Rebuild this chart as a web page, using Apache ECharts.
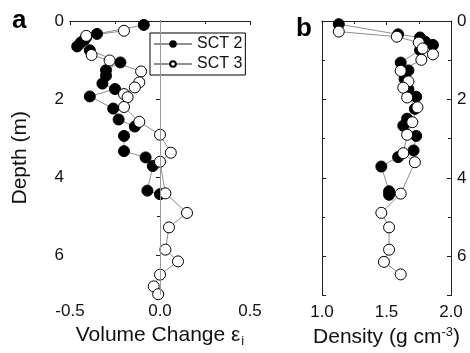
<!DOCTYPE html>
<html><head><meta charset="utf-8">
<script src="https://cdn.jsdelivr.net/npm/echarts@6/dist/echarts.min.js"></script>
<style>html,body{margin:0;padding:0;background:#fff}#c{width:470px;height:353px}</style>
</head><body><div id="c"></div>
<script>
// ---- data ----
const seriesNames = ['SCT 2', 'SCT 3'];
// panel a: volume change vs depth
const depthA2 = [0.10,0.33,0.42,0.48,0.55,0.65,0.75,1.06,1.26,1.40,1.60,1.74,1.93,2.24,2.52,2.70,2.94,3.33,3.49,3.71,4.34,4.43];
const volA2   = [-0.09,-0.35,-0.41,-0.42,-0.44,-0.46,-0.39,-0.22,-0.30,-0.30,-0.32,-0.25,-0.39,-0.26,-0.23,-0.14,-0.20,-0.20,-0.08,-0.04,-0.07,0.00];
const depthA3 = [0.25,0.38,0.87,1.01,1.29,1.57,1.70,1.87,1.95,2.20,2.58,2.91,3.37,3.60,4.41,4.91,5.28,5.85,6.15,6.49,6.79,6.99];
const volA3   = [-0.20,-0.41,-0.38,-0.28,-0.105,-0.115,-0.14,-0.20,-0.18,-0.20,-0.115,0.00,0.06,0.00,0.03,0.15,0.05,0.03,0.10,0.00,-0.035,-0.01];
// panel b: density vs depth
const depthB2 = [0.08,0.34,0.42,0.53,0.61,0.74,1.06,1.26,1.48,1.74,1.93,2.24,2.49,2.67,2.93,3.30,3.47,3.71,4.34,4.43];
const densB2  = [1.13,1.59,1.76,1.80,1.86,1.76,1.61,1.67,1.64,1.67,1.73,1.72,1.66,1.63,1.73,1.71,1.59,1.46,1.52,1.52];
const depthB3 = [0.27,0.40,0.55,0.70,0.85,0.99,1.27,1.54,1.70,1.95,2.20,2.58,2.90,3.37,3.60,4.40,4.89,5.26,5.83,6.14,6.46];
const densB3  = [1.13,1.58,1.75,1.78,1.86,1.77,1.61,1.67,1.63,1.66,1.74,1.70,1.66,1.63,1.72,1.61,1.46,1.52,1.52,1.48,1.61];
const volTicks = [-0.5, 0.0, 0.5];
const densTicks = [1.0, 1.5, 2.0];
const depthTicks = [0, 2, 4, 6];

// ---- chart ----
const font = 'Liberation Sans, Arial, sans-serif';
const pair = (xs, ys) => xs.map((x, i) => [x, ys[i]]);
const lineGray = '#8f8f8f';

function xAx(gi, min, max, ticks, pos, showLabels, name) {
  return {
    type: 'value', gridIndex: gi, min: min, max: max, position: pos,
    interval: ticks[1] - ticks[0],
    axisLine: { show: true, lineStyle: { color: '#222', width: 1 } },
    axisTick: { show: true, inside: pos === 'top', length: 4, lineStyle: { color: '#222' } },
    minorTick: { show: true, splitNumber: 2, length: 3, lineStyle: { color: '#222' } },
    splitLine: { show: false }, minorSplitLine: { show: false },
    axisLabel: { show: showLabels, fontSize: 17, color: '#111', fontFamily: font, margin: 8,
      formatter: v => ticks.some(t => Math.abs(t - v) < 1e-9) ? v.toFixed(1) : '' },
    name: name || '', nameLocation: 'middle', nameGap: 20,
    nameTextStyle: { fontSize: 21, color: '#111', fontFamily: font,
      rich: {
        sub: { fontSize: 13, color: '#111', fontFamily: font, verticalAlign: 'bottom', padding: [13, 0, 0, 1] },
        sup: { fontSize: 13, color: '#111', fontFamily: font, verticalAlign: 'top', padding: [0, 0, 11, 0] }
      } }
  };
}
function yAx(gi, pos, showLabels, name) {
  return {
    type: 'value', gridIndex: gi, inverse: true, min: 0, max: 7, interval: 2, position: pos,
    axisLine: { show: true, lineStyle: { color: '#222', width: 1 } },
    axisTick: { show: true, inside: !(gi === 0 && pos === 'left'), length: 4, lineStyle: { color: '#222' } },
    minorTick: { show: true, splitNumber: 2, length: 3, lineStyle: { color: '#222' } },
    splitLine: { show: false }, minorSplitLine: { show: false },
    axisLabel: { show: showLabels, fontSize: 17, color: '#111', fontFamily: font, margin: 6,
      formatter: v => depthTicks.indexOf(v) >= 0 ? String(v) : '' },
    name: name || '', nameLocation: 'middle', nameGap: 39, nameRotate: 90,
    nameTextStyle: { fontSize: 21, color: '#111', fontFamily: font }
  };
}
function ser(name, xi, yi, data, filled, extra) {
  return Object.assign({
    name: name, type: 'line', xAxisIndex: xi, yAxisIndex: yi, data: data,
    symbol: 'circle', symbolSize: 11, showSymbol: true, clip: false,
    lineStyle: { color: lineGray, width: 1 },
    itemStyle: { color: filled ? '#000' : '#fff', borderColor: '#000', borderWidth: 1 },
    emphasis: { disabled: true }, animation: false
  }, extra || {});
}

const chart = echarts.init(document.getElementById('c'), null, { renderer: 'canvas' });
chart.setOption({
  backgroundColor: '#fff',
  animation: false,
  grid: [
    { left: 70, top: 21, width: 180, height: 276, containLabel: false },
    { left: 322, top: 21, width: 129, height: 276, containLabel: false }
  ],
  xAxis: [
    xAx(0, -0.5, 0.5, volTicks, 'bottom', true, 'Volume Change ε{sub|i}'),
    xAx(0, -0.5, 0.5, volTicks, 'top', false),
    xAx(1, 1.0, 2.0, densTicks, 'bottom', true, 'Density (g cm{sup|-3})'),
    xAx(1, 1.0, 2.0, densTicks, 'top', false)
  ],
  yAxis: [
    yAx(0, 'left', true, 'Depth (m)'),
    yAx(0, 'right', false),
    yAx(1, 'left', false),
    yAx(1, 'right', true)
  ],
  legend: {
    data: seriesNames, orient: 'vertical', left: 150, top: 33,
    padding: [3, 3, 3, 3], itemGap: 4, itemWidth: 38, itemHeight: 7,
    borderColor: '#000', borderWidth: 1, backgroundColor: '#fff',
    textStyle: { fontSize: 16, color: '#111', fontFamily: font }
  },
  graphic: [
    { type: 'text', left: 12, top: 8, style: { text: 'a', font: 'bold 26px ' + font, fill: '#000' } },
    { type: 'text', left: 296, top: 16, style: { text: 'b', font: 'bold 26px ' + font, fill: '#000' } }
  ],
  series: [
    ser(seriesNames[0], 0, 0, pair(volA2, depthA2), true, {
      markLine: { silent: true, symbol: 'none', label: { show: false },
        lineStyle: { color: '#999', width: 1, type: 'solid' }, data: [{ xAxis: 0 }] }
    }),
    ser(seriesNames[1], 0, 0, pair(volA3, depthA3), false),
    ser(seriesNames[0], 2, 2, pair(densB2, depthB2), true),
    ser(seriesNames[1], 2, 2, pair(densB3, depthB3), false)
  ]
});
</script></body></html>
